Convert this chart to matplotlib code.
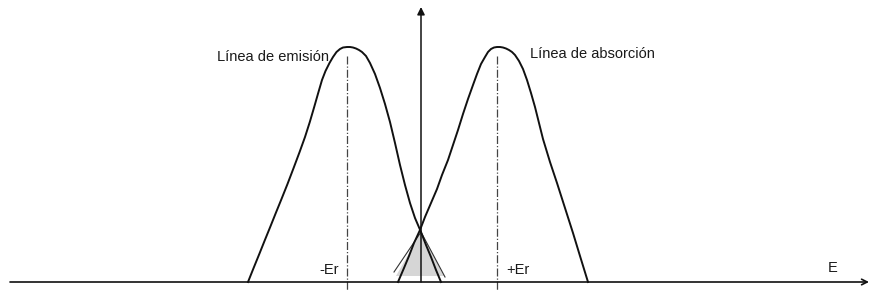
import matplotlib
matplotlib.use("Agg")
import matplotlib.pyplot as plt

plt.rcParams['font.family'] = ['Liberation Sans', 'DejaVu Sans']

# traced points of the two lines (pixel units, y grows downward)
emis_x = [248, 253.6, 259.3, 264.9, 270.2, 275.8, 281.1, 287.5, 293.6, 299.6,
          305, 309.8, 314.2, 318.2, 322, 325.5, 329.5, 333, 336.5, 340, 343,
          347, 350, 353, 356, 359, 362, 366, 370, 375, 380, 385, 390, 395,
          400, 405, 410, 415, 421, 426, 431, 436, 441]
emis_y = [282, 268, 254, 240, 227, 213, 200, 184, 168, 152,
          137, 122, 107, 93, 80, 71, 63, 57, 52, 49, 47.5,
          47, 47, 47.5, 48.5, 50, 52, 56, 63, 74, 88, 104, 122, 143,
          165, 185, 203, 218, 232, 245, 257, 270, 282]

abs_x = [398, 404, 409, 414, 420, 425, 431, 437, 442, 448, 453, 458, 463,
         468, 473, 477, 481, 485, 488, 491, 494, 497, 500, 503, 506, 509,
         512, 515, 519, 523, 527, 531, 535, 539, 543, 550, 557, 565, 573,
         580, 588]
abs_y = [282, 268, 256, 243, 230, 217, 203, 189, 175, 160, 145, 130, 114,
         99, 85, 74, 64, 57, 52, 49, 47.5, 47, 47, 47.5, 48.5, 50,
         52, 55, 61, 69, 80, 93, 107, 123, 139, 162, 183, 208, 233,
         256, 282]

# overlap triangle
tri_x = [421, 396, 444]
tri_y = [232, 276, 276]

peaks = [347, 497]
base_y = 282
axis_x = 421

fig = plt.figure(figsize=(8.7, 2.94), dpi=100)
ax = fig.add_axes([0, 0, 1, 1])
ax.set_xlim(0, 870)
ax.set_ylim(294, 0)
ax.axis('off')

ax.fill(tri_x, tri_y, color='#d6d6d6', lw=0, zorder=1)
ax.plot([tri_x[0], 394], [tri_y[0], 272], color='#333333', lw=0.8, zorder=2)
ax.plot([tri_x[0], 445], [tri_y[0], 277], color='#333333', lw=0.8, zorder=2)

ax.plot(emis_x, emis_y, color='#111111', lw=1.4, zorder=3,
        solid_joinstyle='round')
ax.plot(abs_x, abs_y, color='#111111', lw=1.4, zorder=3,
        solid_joinstyle='round')

for p in peaks:
    ax.plot([p, p], [56, 291], color='#444444', lw=0.9, ls='-.', zorder=2)

# axes
ax.annotate('', xy=(869, base_y), xytext=(10, base_y),
            arrowprops=dict(arrowstyle='->', lw=1.2, color='#111111',
                            shrinkA=0, shrinkB=0, mutation_scale=10))
ax.annotate('', xy=(axis_x, 7), xytext=(axis_x, base_y),
            arrowprops=dict(arrowstyle='-|>', lw=1.1, color='#111111',
                            shrinkA=0, shrinkB=0, mutation_scale=11))

fs = 10.5
ax.text(217, 57, 'Línea de emisión', fontsize=fs, va='center', ha='left', color='#1a1a1a')
ax.text(530, 54, 'Línea de absorción', fontsize=fs, va='center', ha='left', color='#1a1a1a')
ax.text(339, 270, '-Er', fontsize=fs, va='center', ha='right', color='#1a1a1a')
ax.text(506, 270, '+Er', fontsize=fs, va='center', ha='left', color='#1a1a1a')
ax.text(833, 268, 'E', fontsize=fs, va='center', ha='center', color='#1a1a1a')

fig.savefig('out.png', dpi=100)
